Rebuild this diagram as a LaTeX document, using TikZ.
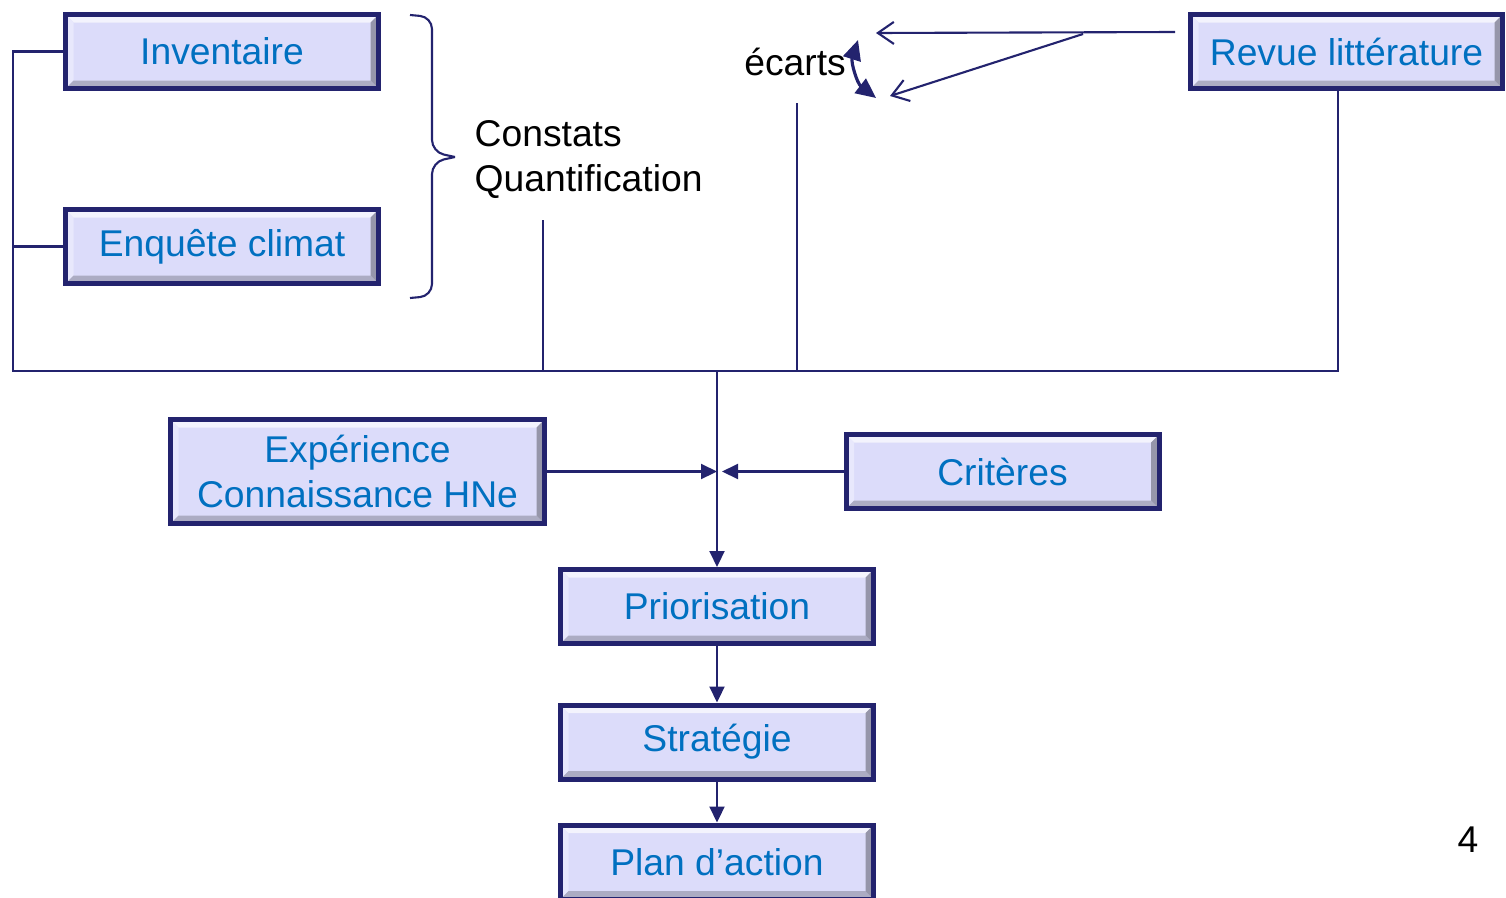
\documentclass[tikz,border=0pt]{standalone}
\usepackage{fontspec}
\setmainfont{Liberation Sans}
\usetikzlibrary{arrows.meta}
\definecolor{navy}{RGB}{35,35,110}
\definecolor{lav}{RGB}{220,220,250}
\definecolor{txtblue}{RGB}{0,112,192}

\begin{document}
\begin{tikzpicture}[x=0.1mm, y=-0.1mm,
        bevel/.style={path picture={
            \coordinate (nw) at (path picture bounding box.north west);
            \coordinate (ne) at (path picture bounding box.north east);
            \coordinate (sw) at (path picture bounding box.south west);
            \coordinate (se) at (path picture bounding box.south east);
            \fill[white!65!lav] (nw) -- (ne) -- ([shift={(-0.8mm,-0.8mm)}]ne) -- ([shift={(0.8mm,-0.8mm)}]nw) -- cycle;
            \fill[white!35!lav] (nw) -- (sw) -- ([shift={(0.8mm,0.8mm)}]sw) -- ([shift={(0.8mm,-0.8mm)}]nw) -- cycle;
            \fill[lav!78!black] (sw) -- (se) -- ([shift={(-0.8mm,0.8mm)}]se) -- ([shift={(0.8mm,0.8mm)}]sw) -- cycle;
            \fill[lav!68!black] (ne) -- (se) -- ([shift={(-0.8mm,0.8mm)}]se) -- ([shift={(-0.8mm,-0.8mm)}]ne) -- cycle;
        }},
        box/.style={draw=navy, fill=lav, line width=0.5mm, inner sep=0pt,
            minimum width=31.3mm, minimum height=7.4mm, text=txtblue,
            align=center, font=\fontsize{10.6}{12.8}\selectfont, bevel},
        lbl/.style={inner sep=0pt, font=\fontsize{10.6}{12.8}\selectfont},
        link/.style={draw=navy, line width=0.6pt},
        arr/.style={link, -{Stealth[length=1.6mm, width=1.5mm, inset=0pt]}},
        openarr/.style={link, -{Straight Barb[length=1.6mm, width=2.2mm]}},
        dblarr/.style={link, line width=0.9pt,
            {Stealth[length=2mm, width=1.8mm, inset=0pt]}-{Stealth[length=2mm, width=1.8mm, inset=0pt]}}]
    \useasboundingbox (0,0) rectangle (1506,897);

    % boxes
    \node[box] (inv) at (222,51.5) {Inventaire};
    \node[box] (enq) at (222,246.5) {Enquête climat};
    \node[box, minimum width=31.2mm] (revue) at (1346.5,51.5) {Revue littérature};
    \node[box, minimum width=37.4mm, minimum height=10.4mm] (exp) at (357.5,471.5) {Expérience\\Connaissance HNe};
    \node[box] (crit) at (1002.5,471.5) {Critères};
    \node[box] (prio) at (717,606.5) {Priorisation};
    \node[box] (strat) at (717,742) {Stratégie};
    \node[box] (plan) at (717,862) {Plan d’action};

    % texts
    \node[lbl, anchor=west, align=left] (const) at (474,160) {Constats\\Quantification};
    \node[lbl] (ecarts) at (795,62) {écarts};
    \node[lbl] (page) at (1468,840) {4};

    % free ends
    \coordinate (jn) at (717,371);
    \coordinate (busw) at (13,371);
    \coordinate (cq) at (543,220);
    \coordinate (ec) at (797,103);
    \coordinate (rv) at (1175,32);
    \coordinate (rvm) at (1083,34);
    \coordinate (ecA) at (876,33);
    \coordinate (ecB) at (890,96);
    \coordinate (ct) at (858,40);
    \coordinate (cb) at (876,98);

    % brace
    \draw[link, rounded corners=1.2mm] (410,15) -- (432,17) -- (432,152) -- (455,157);
    \draw[link, rounded corners=1.2mm] (455,157) -- (432,162) -- (432,296) -- (410,298);

    % collecting lines
    \draw[link] (inv.west) -| (busw) -- (jn);
    \draw[link] (enq.west) -- (enq.west -| busw);
    \draw[link] ([xshift=-0.85mm]revue.south) |- (jn);
    \draw[link] (cq) -- (cq |- jn);
    \draw[link] (ec) -- (ec |- jn);

    % arrows
    \draw[arr] (jn) -- (prio.north);
    \draw[arr] (exp.east) -- (exp.east -| jn);
    \draw[arr, shorten >=0.5mm] (crit.west) -- (crit.west -| jn);
    \draw[arr] (prio.south) -- (strat.north);
    \draw[arr] (strat.south) -- (plan.north);

    % ecarts
    \draw[openarr] (rv) -- (ecA);
    \draw[openarr] (rvm) -- (ecB);
    \draw[dblarr] (ct) to[bend right=35] (cb);
\end{tikzpicture}
\end{document}
